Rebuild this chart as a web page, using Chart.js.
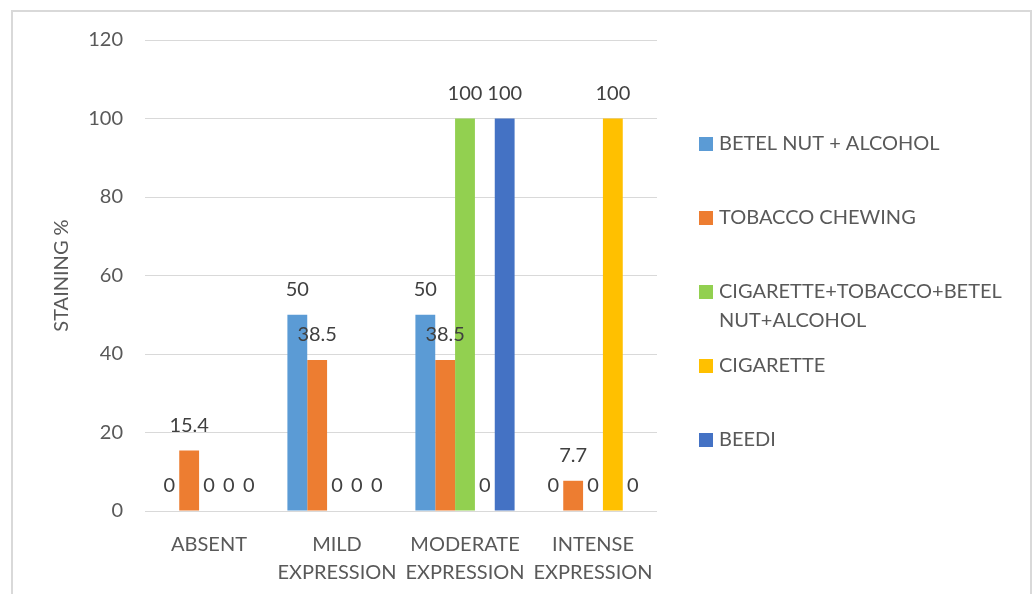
<!DOCTYPE html>
<html>
<head>
<meta charset="utf-8">
<script src="https://cdn.jsdelivr.net/npm/chart.js@4.4.1/dist/chart.umd.min.js"></script>
<style>
    html, body { margin: 0; padding: 0; background: #ffffff; overflow: hidden; }
    #frame {
        position: absolute; left: 11px; top: 10px;
        width: 1017px; height: 600px;
        border: 2px solid #d9d9d9;
    }
    #wrap { position: absolute; left: 0; top: 0; width: 1033px; height: 594px; }
</style>
</head>
<body>
<div id="frame"></div>
<div id="wrap"><canvas id="stainChart" width="1033" height="594"></canvas></div>
<script>

const categories = [
    "ABSENT",
    ["MILD", "EXPRESSION"],
    ["MODERATE", "EXPRESSION"],
    ["INTENSE", "EXPRESSION"]
];

const seriesNames = [
    "BETEL NUT + ALCOHOL",
    "TOBACCO CHEWING",
    "CIGARETTE+TOBACCO+BETEL NUT+ALCOHOL",
    "CIGARETTE",
    "BEEDI"
];

const betelAlcohol = [0, 50, 50, 0];
const tobaccoChewing = [15.4, 38.5, 38.5, 7.7];
const allCombined = [0, 0, 100, 0];
const cigarette = [0, 0, 0, 100];
const beedi = [0, 0, 100, 0];

const seriesColors = ["#5B9BD5", "#ED7D31", "#92D050", "#FFC000", "#4472C4"];

const yTicks = [0, 20, 40, 60, 80, 100, 120];

const FONT = "Lato, 'Liberation Sans', sans-serif";
const TEXT_GREY = "#595959";

// value labels above every bar (zeros included)
const valueLabels = {
    id: "valueLabels",
    afterDatasetsDraw(chart) {
        const ctx = chart.ctx;
        ctx.save();
        ctx.font = "20px " + FONT;
        ctx.fillStyle = "#404040";
        ctx.textAlign = "center";
        ctx.textBaseline = "middle";
        chart.data.datasets.forEach((ds, i) => {
            const meta = chart.getDatasetMeta(i);
            meta.data.forEach((bar, j) => {
                ctx.fillText(String(ds.data[j]), bar.x, bar.y - 25);
            });
        });
        ctx.restore();
    }
};

// legend on the right, one entry per dataset, long names wrapped
const sideLegend = {
    id: "sideLegend",
    afterDraw(chart) {
        const ctx = chart.ctx;
        ctx.save();
        ctx.font = "20px " + FONT;
        ctx.textBaseline = "middle";
        const x0 = 699;
        let y = 144;
        chart.data.datasets.forEach((ds) => {
            ctx.fillStyle = ds.backgroundColor;
            ctx.fillRect(x0, y - 7, 14, 14);

            const words = ds.label.split(" ");
            const lines = [];
            let line = "";
            words.forEach((w) => {
                const test = line ? line + " " + w : w;
                if (ctx.measureText(test).width > 300 && line) {
                    lines.push(line);
                    line = w;
                } else {
                    line = test;
                }
            });
            lines.push(line);

            ctx.fillStyle = TEXT_GREY;
            lines.forEach((l, k) => {
                ctx.fillText(l, x0 + 20, y + k * 29);
            });
            y += 74;
        });
        ctx.restore();
    }
};

const datasetValues = [betelAlcohol, tobaccoChewing, allCombined, cigarette, beedi];

const stainChart = new Chart(document.getElementById("stainChart").getContext("2d"), {

    type: "bar",

    data: {
        labels: categories,
        datasets: datasetValues.map((vals, i) => ({
            label: seriesNames[i],
            data: vals,
            backgroundColor: seriesColors[i],
            borderWidth: 0,
            categoryPercentage: 0.775,
            barPercentage: 1.0
        }))
    },

    options: {
        responsive: false,
        animation: false,
        layout: {
            padding: { left: 50, top: 40, right: 376, bottom: 0 }
        },
        plugins: {
            legend: { display: false },
            tooltip: { enabled: false }
        },
        scales: {
            x: {
                grid: { display: false },
                border: { display: false },
                ticks: {
                    color: TEXT_GREY,
                    font: { family: FONT, size: 20, lineHeight: 1.4 },
                    padding: 12,
                    maxRotation: 0,
                    autoSkip: false
                },
                afterFit(scale) { scale.height = 83; }
            },
            y: {
                min: 0,
                max: 120,
                afterBuildTicks(scale) {
                    scale.ticks = yTicks.map(v => ({ value: v }));
                },
                grid: {
                    color: "#d9d9d9",
                    lineWidth: 1,
                    drawTicks: false
                },
                border: { display: false },
                ticks: {
                    color: TEXT_GREY,
                    font: { family: FONT, size: 20 },
                    padding: 22
                },
                title: {
                    display: true,
                    text: "STAINING %",
                    color: TEXT_GREY,
                    font: { family: FONT, size: 20 },
                    padding: 0
                },
                afterFit(scale) { scale.width = 95; }
            }
        }
    },

    plugins: [valueLabels, sideLegend]

});
</script>
</body>
</html>
